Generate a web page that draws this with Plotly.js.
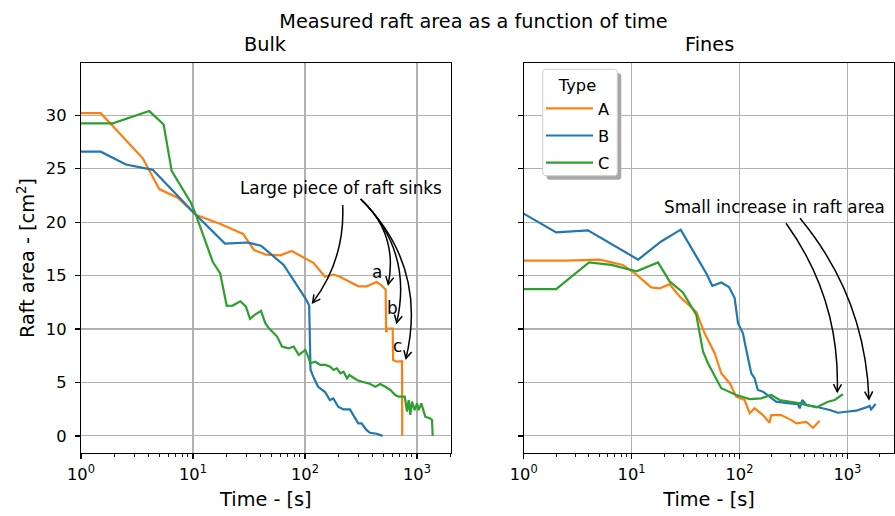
<!DOCTYPE html>
<html><head><meta charset="utf-8">
<script src="https://cdn.plot.ly/plotly-3.0.1.min.js"></script>
<style>html,body{margin:0;padding:0;background:#fff}#chart{width:895px;height:516px}</style>
</head><body><div id="chart"></div>
<script>
// ---------------- data ----------------
const seriesNames = ['A', 'B', 'C'];
const seriesColors = ['#ff7f0e', '#1f77b4', '#2ca02c'];

// Bulk
const bulkA_t = [1, 1.5, 3.55, 5.0, 7.3, 10.6, 17.8, 28, 35, 45, 60, 76, 119, 151, 179, 205, 300, 356, 436, 480, 525, 530, 545, 607, 612, 662, 735, 738];
const bulkA_area = [30.2, 30.2, 26.0, 23.1, 22.3, 20.7, 19.8, 18.9, 17.4, 16.96, 16.9, 17.3, 16.2, 14.9, 15.1, 14.9, 14.0, 14.0, 14.4, 14.1, 13.7, 9.7, 10.05, 10.05, 7.1, 6.95, 7.0, 0];

const bulkB_t = [1, 1.5, 2.52, 4.37, 10.6, 19.3, 30.8, 40.5, 64.5, 82, 100.6, 109, 111, 112, 118.6, 131, 151, 167, 179, 198, 220, 252, 270, 299, 320, 356, 380, 436, 494];
const bulkB_area = [26.6, 26.6, 25.4, 24.9, 20.7, 18.0, 18.1, 17.8, 16.0, 14.3, 12.9, 12.2, 7.0, 6.2, 5.55, 4.6, 4.1, 3.36, 3.5, 2.73, 2.48, 2.48, 1.95, 1.17, 1.17, 0.54, 0.29, 0.2, 0.0];

const bulkC_t = [1, 1.92, 4.07, 5.47, 6.45, 9.6, 10.6, 15.0, 17.5, 20.0, 22.6, 26.5, 29.7, 32.3, 35.3, 40.5, 44.2, 47.4, 56.3, 62.3, 71.5, 79.3, 87.9, 100.7, 106, 111.5, 123.6, 137, 152, 168, 180, 193, 207, 221, 237, 249, 263, 291, 323, 370, 425, 470, 521, 578, 640, 687, 777, 815, 843, 873, 902, 953, 1000, 1035, 1093, 1148, 1186, 1315, 1362, 1380];
const bulkC_area = [29.25, 29.25, 30.4, 29.15, 24.8, 21.8, 20.7, 16.3, 15.2, 12.18, 12.2, 12.6, 12.1, 10.95, 11.3, 11.7, 10.55, 10.1, 9.3, 8.36, 8.2, 8.36, 7.58, 8.05, 7.5, 6.8, 6.94, 6.64, 6.64, 6.48, 6.17, 6.32, 5.86, 6.0, 5.39, 5.7, 5.54, 5.23, 5.07, 4.92, 4.6, 4.86, 4.6, 4.3, 3.83, 3.67, 3.67, 2.27, 3.36, 1.96, 3.2, 2.42, 3.05, 2.42, 3.05, 2.3, 1.8, 1.64, 1.48, 0.0];

// Fines
const finesA_t = [1, 2.48, 5.06, 8.3, 11.1, 15.2, 18.2, 22.5, 27.9, 39.8, 47.5, 58.9, 67.8, 81.2, 93.4, 111.7, 124.4, 138, 165, 190, 197, 244, 302, 336, 416, 480, 554];
const finesA_area = [16.4, 16.4, 16.5, 16.0, 15.1, 13.9, 13.8, 14.2, 13.05, 11.6, 9.6, 7.74, 5.86, 4.93, 3.67, 3.36, 2.11, 2.58, 1.95, 1.23, 1.95, 1.95, 1.48, 1.17, 1.32, 0.76, 1.42];

const finesB_t = [1, 2.0, 3.94, 11.5, 18.8, 28.5, 39.8, 49.3, 56, 67.8, 80, 90.2, 96.9, 107.7, 115.6, 128.6, 138, 148, 165, 190, 219, 292, 348, 361, 382, 416, 515, 686, 818, 977, 1208, 1496, 1610, 1660, 1829];
const finesB_area = [20.8, 19.05, 19.24, 16.5, 18.2, 19.3, 16.8, 15.2, 14.05, 14.36, 13.93, 12.9, 10.55, 9.6, 8.05, 5.86, 5.4, 4.3, 4.14, 3.67, 3.2, 3.05, 2.98, 2.58, 3.36, 2.89, 2.73, 2.42, 2.17, 2.26, 2.36, 2.67, 2.8, 2.48, 2.98];

const finesC_t = [1, 2.0, 4.03, 6.5, 11.1, 17.6, 22.5, 29.9, 39.8, 45.9, 51, 67.8, 93.4, 124, 159, 197, 236, 361, 515, 661, 763, 879, 908];
const finesC_area = [13.74, 13.74, 16.24, 16.0, 15.4, 16.24, 14.46, 13.43, 11.33, 7.9, 6.8, 4.46, 3.83, 3.45, 3.52, 3.83, 3.36, 3.05, 2.67, 3.2, 3.36, 3.83, 3.9];

// tick labels
const majorTickVals = [1, 10, 100, 1000];
const majorTickText = ['10<sup>0</sup>', '10<sup>1</sup>', '10<sup>2</sup>', '10<sup>3</sup>'];
const yTickVals = [0, 5, 10, 15, 20, 25, 30];

// annotation anchors (data coordinates: time, area)
const bulkNoteText = 'Large piece of raft sinks';
const bulkNotePos = [208, 23.2];
const bulkArrowStart1 = [217, 21.6];
const bulkArrowEnd1 = [117, 12.47];
const bulkArrowStart2 = [314, 22.17];
const bulkArrowEnds2 = [[554, 14.19], [659, 10.6], [798, 7.26]];
const bulkLetters = ['a', 'b', 'c'];
const bulkLetterPos = [[444, 15.37], [608, 11.94], [673, 8.44]];
const finesNoteText = 'Small increase in raft area';
const finesNotePos = [209, 21.45];
const finesArrowStarts = [[270, 19.9], [364, 20.37]];
const finesArrowEnds = [[806, 4.14], [1585, 3.45]];

// ---------------- geometry ----------------
const FIG = {w: 895, h: 516, l: 81, r: 0, t: 63, b: 63};
const PW = FIG.w - FIG.l - FIG.r, PH = FIG.h - FIG.t - FIG.b;
const DOM = {bulk: [0, 369.7 / 814], fines: [442.7 / 814, 813.3 / 814]};
const XR = {bulk: [0, 3.301], fines: [0, 3.435]};
const YR = [-1.6, 34.9];
const FONT = 'DejaVu Sans, Verdana, sans-serif';
const FS_TICK = 16.3, FS_NOTE = 16.8, FS_TITLE = 19.3;

function toPx(panel, x, y) {
  const d = DOM[panel], r = XR[panel];
  const px = FIG.l + PW * (d[0] + (d[1] - d[0]) * (Math.log10(x) - r[0]) / (r[1] - r[0]));
  const py = FIG.t + PH * (1 - (y - YR[0]) / (YR[1] - YR[0]));
  return [px, py];
}
function toPaper(px, py) { return [(px - FIG.l) / PW, (FIG.t + PH - py) / PH]; }
function P(px, py) { const p = toPaper(px, py); return p[0].toFixed(5) + ',' + p[1].toFixed(5); }

function curvedArrow(panel, start, end, rad) {
  const [sx, sy] = toPx(panel, start[0], start[1]);
  const [ex, ey] = toPx(panel, end[0], end[1]);
  const mx = (sx + ex) / 2, my = (sy + ey) / 2;
  const cx = mx - rad * (ey - sy), cy = my + rad * (ex - sx);
  let dx = ex - cx, dy = ey - cy; const n = Math.hypot(dx, dy); dx /= n; dy /= n;
  const hl = 7.5, hw = 4;
  const ax = ex - hl * dx - hw * dy, ay = ey - hl * dy + hw * dx;
  const bx = ex - hl * dx + hw * dy, by = ey - hl * dy - hw * dx;
  const style = {type: 'path', xref: 'paper', yref: 'paper', line: {color: 'black', width: 1.5}, layer: 'above'};
  return [
    Object.assign({}, style, {path: `M${P(sx, sy)} Q${P(cx, cy)} ${P(ex, ey)}`}),
    Object.assign({}, style, {path: `M${P(ax, ay)} L${P(ex, ey)} L${P(bx, by)}`})
  ];
}
function textAt(panel, pos, text, size) {
  const [px, py] = toPx(panel, pos[0], pos[1]);
  const p = toPaper(px, py);
  return {xref: 'paper', yref: 'paper', x: p[0], y: p[1], text: text, showarrow: false,
          xanchor: 'center', yanchor: 'middle', font: {family: FONT, size: size, color: 'black'}};
}

// ---------------- traces ----------------
const bulkT = [bulkA_t, bulkB_t, bulkC_t], bulkY = [bulkA_area, bulkB_area, bulkC_area];
const finesT = [finesA_t, finesB_t, finesC_t], finesY = [finesA_area, finesB_area, finesC_area];
const traces = [];
for (let i = 0; i < 3; i++) {
  traces.push({x: bulkT[i], y: bulkY[i], type: 'scatter', mode: 'lines', name: seriesNames[i],
    xaxis: 'x', yaxis: 'y', line: {color: seriesColors[i], width: 2.2}, showlegend: false,
    legendgroup: seriesNames[i], hoverinfo: 'x+y+name'});
}
for (let i = 0; i < 3; i++) {
  traces.push({x: finesT[i], y: finesY[i], type: 'scatter', mode: 'lines', name: seriesNames[i],
    xaxis: 'x2', yaxis: 'y2', line: {color: seriesColors[i], width: 2.2}, showlegend: true,
    legendgroup: seriesNames[i], hoverinfo: 'x+y+name'});
}

// ---------------- axes ----------------
const minorVals = [];
[1, 10, 100, 1000].forEach(d => { for (let k = 2; k <= 9; k++) minorVals.push(k * d); });

function xAxis(panel, anchor) {
  return {type: 'log', range: XR[panel], domain: DOM[panel], anchor: anchor,
    tickmode: 'array', tickvals: majorTickVals, ticktext: majorTickText,
    ticks: 'outside', ticklen: 5, tickwidth: 1.2, tickcolor: 'black',
    minor: {tickmode: 'array', tickvals: minorVals, ticks: 'outside', ticklen: 3, tickwidth: 0.9, tickcolor: 'black', showgrid: false},
    showline: true, linecolor: 'black', linewidth: 1.2, mirror: true,
    showgrid: true, gridcolor: '#b0b0b0', gridwidth: 1.1, zeroline: false,
    tickfont: {family: FONT, size: FS_TICK, color: 'black'}, ticklabelstandoff: 1,
    title: {text: 'Time - [s]', font: {family: FONT, size: FS_TITLE, color: 'black'}, standoff: 9},
    automargin: false};
}
function yAxis(anchor, labels) {
  return {range: YR, domain: [0, 1], anchor: anchor, tickmode: 'array', tickvals: yTickVals,
    showticklabels: labels, ticks: 'outside', ticklen: 5, tickwidth: 1.2, tickcolor: 'black',
    showline: true, linecolor: 'black', linewidth: 1.2, mirror: true,
    showgrid: true, gridcolor: '#b0b0b0', gridwidth: 1.1, zeroline: false,
    tickfont: {family: FONT, size: FS_TICK, color: 'black'}, ticklabelstandoff: 5,
    automargin: false};
}
const yax1 = yAxis('x', true);
yax1.title = {text: 'Raft area - [cm<sup>2</sup>]', font: {family: FONT, size: FS_TITLE, color: 'black'}, standoff: 6};
const yax2 = yAxis('x2', false);
yax2.matches = 'y';

// ---------------- annotations & shapes ----------------
const annotations = [];
const shapes = [];
annotations.push(textAt('bulk', bulkNotePos, bulkNoteText, FS_NOTE));
shapes.push(...curvedArrow('bulk', bulkArrowStart1, bulkArrowEnd1, -0.18));
bulkArrowEnds2.forEach(e => shapes.push(...curvedArrow('bulk', bulkArrowStart2, e, -0.28)));
bulkLetters.forEach((l, i) => annotations.push(textAt('bulk', bulkLetterPos[i], l, FS_NOTE)));
annotations.push(textAt('fines', finesNotePos, finesNoteText, FS_NOTE));
finesArrowStarts.forEach((s, i) => shapes.push(...curvedArrow('fines', s, finesArrowEnds[i], -0.17)));

// subplot titles
[['bulk', 'Bulk'], ['fines', 'Fines']].forEach(([panel, txt]) => {
  const d = DOM[panel];
  annotations.push({xref: 'paper', yref: 'paper', x: (d[0] + d[1]) / 2, y: toPaper(0, 44.5)[1],
    text: txt, showarrow: false, xanchor: 'center', yanchor: 'middle',
    font: {family: FONT, size: FS_TITLE, color: 'black'}});
});

// legend frame (with shadow)
function roundRect(x0, y0, x1, y1, r) {
  return `M${P(x0 + r, y0)} L${P(x1 - r, y0)} Q${P(x1, y0)} ${P(x1, y0 + r)} L${P(x1, y1 - r)} Q${P(x1, y1)} ${P(x1 - r, y1)} L${P(x0 + r, y1)} Q${P(x0, y1)} ${P(x0, y1 - r)} L${P(x0, y0 + r)} Q${P(x0, y0)} ${P(x0 + r, y0)} Z`;
}
const LB = {x0: 542.7, y0: 69.3, x1: 617.3, y1: 175.7};
shapes.push({type: 'path', xref: 'paper', yref: 'paper', layer: 'above',
  path: roundRect(LB.x0 + 4, LB.y0 + 4, LB.x1 + 4, LB.y1 + 4, 3), fillcolor: '#a8a8a8', line: {width: 0}});
shapes.push({type: 'path', xref: 'paper', yref: 'paper', layer: 'above',
  path: roundRect(LB.x0, LB.y0, LB.x1, LB.y1, 3), fillcolor: 'white', line: {color: '#cccccc', width: 1}});

const layout = {
  width: FIG.w, height: FIG.h,
  margin: {l: FIG.l, r: FIG.r, t: FIG.t, b: FIG.b, pad: 0},
  paper_bgcolor: 'white', plot_bgcolor: 'white',
  font: {family: FONT, color: 'black'},
  title: {text: 'Measured raft area as a function of time', font: {family: FONT, size: FS_TITLE, color: 'black'},
    xref: 'paper', x: toPaper(473.5, 0)[0], xanchor: 'center', yref: 'container', y: 1 - 21 / 516, yanchor: 'middle'},
  xaxis: xAxis('bulk', 'y'), yaxis: yax1,
  xaxis2: xAxis('fines', 'y2'), yaxis2: yax2,
  showlegend: true,
  legend: {x: toPaper(541, 0)[0], y: toPaper(0, 70)[1], xanchor: 'left', yanchor: 'top',
    bgcolor: 'rgba(0,0,0,0)', borderwidth: 0, traceorder: 'grouped', tracegroupgap: 3,
    itemwidth: 47,
    font: {family: FONT, size: FS_TICK, color: 'black'},
    title: {text: 'Type', side: 'top center', font: {family: FONT, size: FS_TICK, color: 'black'}}},
  annotations: annotations, shapes: shapes
};
Plotly.newPlot('chart', traces, layout, {displayModeBar: false, staticPlot: true});
</script></body></html>
